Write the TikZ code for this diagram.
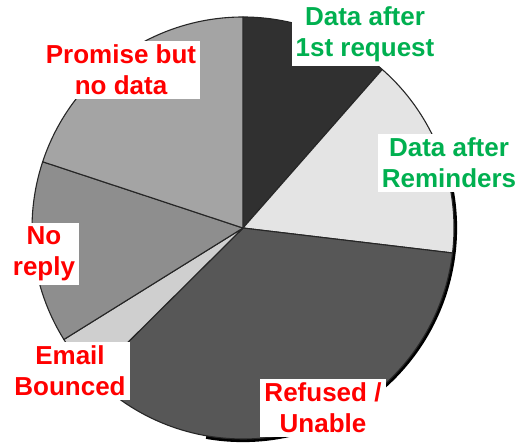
\documentclass[tikz,border=0pt]{standalone}
\usepackage{fontspec}
\setmainfont{Liberation Sans}
\definecolor{answerred}{HTML}{FF0000}
\definecolor{answergreen}{HTML}{00B050}
\definecolor{firstgrey}{HTML}{303030}
\definecolor{remindgrey}{HTML}{E4E4E4}
\definecolor{refusegrey}{HTML}{575757}
\definecolor{bouncegrey}{HTML}{CFCFCF}
\definecolor{silentgrey}{HTML}{8E8E8E}
\definecolor{promisegrey}{HTML}{A4A4A4}
\begin{document}
\begin{tikzpicture}[x=1pt,y=1pt]
      % Define styles for slices and labels
      \tikzstyle{slice} = [draw=black!85, line width=1.1pt, line join=round]
      \tikzstyle{tagbox} = [fill=white, align=center, inner sep=4pt,
      font=\fontsize{26}{31}\selectfont\bfseries]
      \tikzstyle{redtag} = [tagbox, text=answerred]
      \tikzstyle{greentag} = [tagbox, text=answergreen]

      \useasboundingbox (0,0) rectangle (518,444);

      % Shadow on the lower right rim
      \draw[line width=3.2pt, black] (243,216) ++(12:212.5)
      arc[start angle=12, end angle=-100, radius=212.5];

      % Slices of the pie
      \foreach \from/\to/\shade in {48.7/90/firstgrey, -6.8/48.7/remindgrey,
        -135.2/-6.8/refusegrey, -148.1/-135.2/bouncegrey,
        161.7/211.9/silentgrey, 90/161.7/promisegrey}
        \draw[slice, fill=\shade] (243,216) -- ++(\from:211)
        arc[start angle=\from, end angle=\to, radius=211] -- cycle;

      % Labels of the slices
      \node[greentag] (first) at (365,410) {Data after\\1st request};
      \node[greentag] (reminders) at (449,281) {Data after\\Reminders};
      \node[redtag] (refused) at (323,36) {Refused /\\Unable};
      \node[redtag] (bounced) at (70,73) {Email\\Bounced};
      \node[redtag] (noreply) at (44,190) {No\\reply};
      \node[redtag] (promise) at (121,374) {Promise but\\no data};

    \end{tikzpicture}
\end{document}
